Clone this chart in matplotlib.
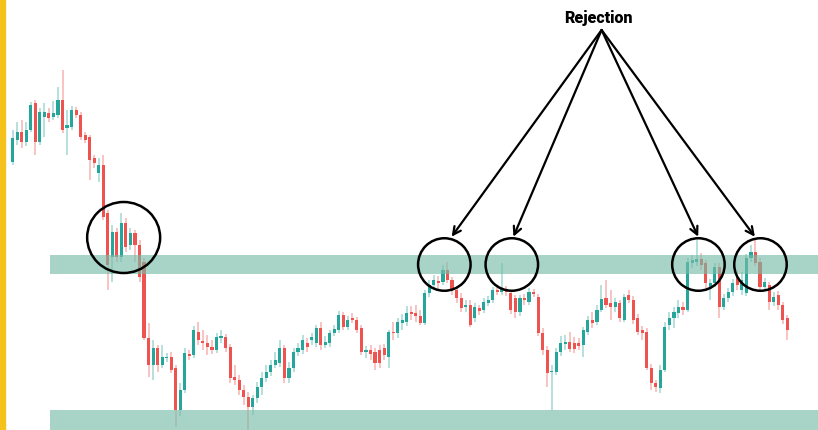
import numpy as np
import matplotlib
matplotlib.use("Agg")
import matplotlib.pyplot as plt
from matplotlib.patches import Ellipse, Rectangle

### candle data: (colour, body top, body bottom, wick top, wick bottom), price = 430 - px
TEAL, RED = '#26a69a', '#ef5350'
colors = list('TTRTTRTTRT' 'TRTTRRRRRT' 'RRTRTRTRRR' 'RTRTTRRTTR' 'TRRRRTTRRR'
              'RRRTTTTTTT' 'RTTTTRTTRT' 'TTTRTRRRTR' 'RRRTRTTTRR' 'RTTTRTRRRR'
              'TRTRTTTRTR' 'RRTRTRRRRT' 'TTTRRRTTRT' 'TRRTRTRRRR' 'RRRTTTTTRT'
              'TTRRTTRTTT' 'RTTTRRTRTR' 'RR')
body_top = [138, 132, 132, 130, 105, 103, 112, 112, 113, 113, 100, 100, 125, 110, 110, 115, 135, 137, 158, 165,
            165, 213, 232, 232, 223, 223, 233, 233, 245, 262, 338, 348, 348, 357, 357, 357, 368, 390, 353, 354,
            330, 332, 341, 343, 347, 337, 336, 337, 347, 377, 380, 390, 397, 398, 387, 378, 372, 365, 360, 348,
            348, 368, 352, 348, 340, 343, 337, 328, 328, 342, 333, 329, 315, 315, 320, 318, 320, 328, 350, 350,
            352, 350, 348, 332, 332, 322, 320, 313, 312, 313, 316, 293, 285, 280, 281, 270, 270, 280, 290, 298,
            305, 305, 307, 308, 302, 300, 290, 290, 288, 289, 293, 298, 298, 298, 292, 292, 297, 333, 350, 371,
            352, 343, 342, 342, 343, 343, 330, 320, 320, 310, 299, 298, 303, 302, 303, 297, 295, 300, 318, 330,
            332, 368, 383, 370, 327, 318, 312, 307, 307, 262, 260, 259, 259, 263, 283, 267, 267, 298, 292, 283,
            278, 280, 258, 252, 252, 262, 282, 285, 297, 295, 305, 318]
body_bot = [162, 140, 142, 142, 130, 142, 142, 117, 118, 117, 115, 130, 128, 127, 115, 137, 140, 160, 163, 173,
            217, 265, 257, 257, 257, 247, 245, 245, 277, 338, 365, 365, 365, 365, 358, 370, 410, 410, 390, 356,
            355, 340, 343, 347, 350, 350, 338, 348, 378, 380, 390, 397, 407, 407, 398, 387, 378, 372, 365, 363,
            378, 378, 368, 352, 350, 347, 340, 343, 345, 345, 343, 333, 330, 327, 327, 320, 330, 352, 352, 354,
            363, 363, 355, 357, 333, 333, 323, 322, 314, 316, 323, 323, 293, 285, 283, 282, 280, 290, 298, 308,
            307, 325, 318, 311, 310, 303, 300, 292, 292, 292, 310, 312, 312, 300, 302, 294, 333, 350, 373, 372,
            372, 352, 344, 349, 349, 346, 345, 332, 323, 322, 310, 305, 307, 307, 318, 320, 300, 320, 332, 333,
            368, 383, 387, 388, 370, 325, 318, 313, 310, 310, 263, 262, 265, 283, 288, 283, 307, 307, 298, 292,
            285, 290, 293, 258, 263, 287, 287, 302, 302, 305, 320, 330]
wick_top = [130, 122, 120, 122, 102, 100, 108, 103, 108, 101, 87, 70, 110, 106, 107, 112, 132, 135, 155, 158,
            155, 210, 225, 228, 213, 218, 228, 230, 240, 258, 323, 340, 345, 345, 353, 352, 365, 383, 348, 350,
            326, 322, 330, 335, 340, 333, 330, 334, 344, 365, 375, 385, 392, 395, 382, 372, 365, 360, 352, 340,
            345, 362, 348, 343, 335, 338, 333, 325, 322, 336, 330, 325, 311, 312, 316, 313, 317, 325, 346, 345,
            348, 345, 344, 330, 322, 318, 314, 306, 306, 305, 310, 290, 280, 275, 276, 265, 262, 277, 286, 293,
            300, 300, 303, 305, 298, 296, 287, 286, 263, 286, 290, 295, 295, 294, 288, 289, 294, 328, 346, 365,
            348, 336, 335, 332, 337, 338, 327, 316, 312, 305, 285, 280, 290, 298, 300, 294, 290, 296, 314, 326,
            328, 364, 380, 365, 322, 312, 307, 300, 302, 258, 255, 240, 253, 260, 279, 263, 263, 294, 288, 279,
            270, 272, 254, 245, 240, 258, 278, 282, 292, 291, 302, 315]
wick_bot = [165, 145, 148, 146, 132, 155, 145, 137, 122, 120, 118, 133, 155, 130, 118, 140, 143, 180, 168, 182,
            220, 290, 282, 262, 262, 252, 250, 262, 282, 340, 377, 380, 372, 368, 362, 373, 427, 416, 393, 360,
            358, 345, 350, 355, 354, 353, 343, 352, 383, 385, 395, 405, 430, 415, 403, 395, 382, 376, 368, 367,
            383, 383, 372, 356, 354, 352, 345, 347, 350, 348, 347, 336, 333, 330, 330, 323, 333, 355, 358, 360,
            370, 368, 360, 368, 340, 338, 330, 326, 320, 322, 325, 325, 297, 290, 290, 285, 283, 295, 303, 312,
            312, 327, 322, 315, 313, 306, 303, 295, 295, 296, 314, 318, 316, 305, 305, 297, 336, 355, 387, 410,
            375, 356, 350, 352, 353, 350, 357, 335, 328, 325, 312, 308, 320, 312, 322, 322, 303, 324, 335, 340,
            370, 390, 392, 393, 372, 330, 328, 318, 315, 312, 268, 266, 270, 290, 300, 287, 318, 310, 302, 296,
            290, 295, 296, 262, 266, 290, 291, 310, 306, 310, 324, 340]

up = np.array([c == 'T' for c in colors])
bt, bb = 430 - np.array(body_top), 430 - np.array(body_bot)
high, low = 430 - np.array(wick_top), 430 - np.array(wick_bot)
opens = np.where(up, bb, bt)
closes = np.where(up, bt, bb)

### zones and annotations
resistance = (156, 175)
support = (0, 20)
rejections = [95.3, 110.2, 151.4, 165.1]
first_touch = 24.5
label = 'Rejection'

fig = plt.figure(figsize=(8.18, 4.30), dpi=100)
ax = fig.add_axes([0, 0, 1, 1])
ax.set_xlim(-2.8, 177.8)
ax.set_ylim(0, 430)
ax.axis('off')

x = np.arange(len(opens))
col = np.where(up, TEAL, RED)
ax.vlines(x, low, high, colors=col, linewidth=1.2, alpha=0.4, zorder=2)
ax.bar(x, np.maximum(np.abs(closes - opens), 1.5), bottom=np.minimum(opens, closes),
       width=0.68, color=col, zorder=3)

# zones drawn over the candles
x0 = ax.get_xlim()[0] + 50 / 4.53
for lo, hi in (resistance, support):
    ax.add_patch(Rectangle((x0, lo), 200, hi - lo, color='#77bca9', alpha=0.64, lw=0, zorder=4))

# yellow strip on the left edge
fig.patches.append(Rectangle((0, 0), 5 / 818, 1, transform=fig.transFigure, color='#f5c21b', zorder=5))

# circles (px radius converted to data units)
ax.add_patch(Ellipse((first_touch, 192.5), 73 / 4.53, 71, fill=False, ec='black', lw=1.8, zorder=6))
for r in rejections:
    ax.add_patch(Ellipse((r, 165.5), 52.5 / 4.53, 52.5, fill=False, ec='black', lw=1.8, zorder=6))

# arrows from label to the rejections
src = ((601.7 - 12.7) / 4.53, 400)
tips = [(451.7, 193.3), (513.5, 193.3), (698.3, 193.3), (755, 193.3)]
for tx, ty in tips:
    ax.annotate('', xy=((tx - 12.7) / 4.53, ty), xytext=src,
                arrowprops=dict(arrowstyle='->', color='black', lw=1.6, mutation_scale=14,
                                shrinkA=0, shrinkB=0), zorder=7)
ax.text((598 - 12.7) / 4.53, 412, label, ha='center', va='center', fontsize=11.5,
        fontweight='heavy', family='Roboto', color='black')

fig.savefig('out.png', dpi=100)
